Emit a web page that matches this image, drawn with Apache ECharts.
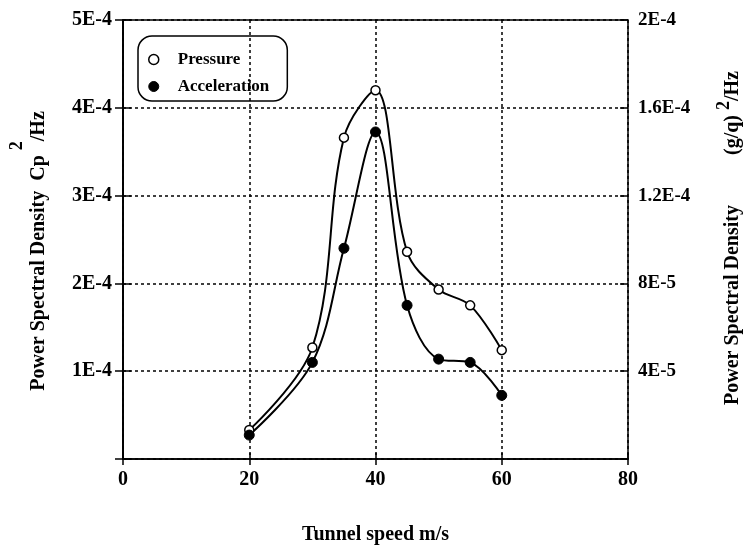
<!DOCTYPE html>
<html>
<head>
<meta charset="utf-8">
<script src="https://cdn.jsdelivr.net/npm/echarts@6/dist/echarts.min.js"></script>
<style>html,body{margin:0;padding:0;background:#fff}#c{width:748px;height:550px}</style>
</head>
<body>
<div id="c"></div>
<script>
// ---- data ----
var speeds = [20, 30, 35, 40, 45, 50, 55, 60];
var pressure = [3.3e-5, 1.27e-4, 3.66e-4, 4.2e-4, 2.36e-4, 1.93e-4, 1.75e-4, 1.24e-4];      // Cp^2/Hz (left axis)
var acceleration = [1.09e-5, 4.4e-5, 9.6e-5, 1.49e-4, 7.0e-5, 4.55e-5, 4.4e-5, 2.9e-5];   // (g/q)^2/Hz (right axis)
var xTickLabels = ['0', '20', '40', '60', '80'];
var leftTickLabels = ['', '1E-4', '2E-4', '3E-4', '4E-4', '5E-4'];
var rightTickLabels = ['', '4E-5', '8E-5', '1.2E-4', '1.6E-4', '2E-4'];
var seriesNames = ['Pressure', 'Acceleration'];
var xTitle = 'Tunnel speed m/s';
var leftTitle = ['Power Spectral Density  Cp ', '2', '/Hz'];
var rightTitle = ['Power Spectral Density          (g/q) ', '2', '/Hz'];

var FONT = '"Liberation Serif", "Times New Roman", serif';
var chart = echarts.init(document.getElementById('c'), null, {renderer: 'canvas'});

function pairs(xs, ys) { return xs.map(function (x, i) { return [x, ys[i]]; }); }

var option = {
  animation: false,
  backgroundColor: '#fff',
  grid: {left: 123, right: 120, top: 20, bottom: 91, show: true, borderColor: '#000', borderWidth: 1.5, backgroundColor: 'transparent'},
  legend: {
    left: 138, top: 36, orient: 'vertical',
    padding: [15, 18, 6, 10], itemGap: 10,
    itemWidth: 10, itemHeight: 10,
    borderColor: '#000', borderWidth: 1.5, borderRadius: 14,
    textStyle: {fontFamily: FONT, fontWeight: 'bold', fontSize: 17, color: '#000', lineHeight: 17, padding: [0, 0, 0, 14]},
    data: [
      {name: seriesNames[0], icon: 'circle', itemStyle: {color: '#fff', borderColor: '#000', borderWidth: 1.5}},
      {name: seriesNames[1], icon: 'circle', itemStyle: {color: '#000', borderColor: '#000', borderWidth: 1}}
    ]
  },
  xAxis: [{
    type: 'value', min: 0, max: 80, interval: 20,
    name: xTitle, nameLocation: 'middle', nameGap: 66,
    nameTextStyle: {fontFamily: FONT, fontWeight: 'bold', fontSize: 20, color: '#000'},
    axisLine: {lineStyle: {color: '#000', width: 1.5}},
    axisTick: {show: true, length: 6, lineStyle: {color: '#000', width: 1.5}},
    axisLabel: {margin: 11, fontFamily: FONT, fontWeight: 'bold', fontSize: 20, color: '#000',
      formatter: function (v, i) { return xTickLabels[i]; }},
    splitLine: {show: true, lineStyle: {color: '#000', width: 1.5, type: [3, 3]}}
  }, {
    type: 'value', min: 0, max: 80, interval: 20, position: 'bottom',
    axisLine: {show: false}, axisLabel: {show: false}, splitLine: {show: false},
    axisTick: {show: true, inside: true, length: 6, lineStyle: {color: '#000', width: 1.5}}
  }],
  yAxis: [{
    type: 'value', min: 0, max: 5e-4, interval: 1e-4, position: 'left',
    axisLine: {show: true, lineStyle: {color: '#000', width: 1.5}},
    axisTick: {show: true, length: 8, lineStyle: {color: '#000', width: 1.5}},
    axisLabel: {margin: 11, fontFamily: FONT, fontWeight: 'bold', fontSize: 20, color: '#000',
      formatter: function (v, i) { return leftTickLabels[i]; }},
    splitLine: {show: true, lineStyle: {color: '#000', width: 1.5, type: [3, 3]}}
  }, {
    type: 'value', min: 0, max: 2e-4, interval: 4e-5, position: 'right',
    axisLine: {show: true, lineStyle: {color: '#000', width: 1.5}},
    axisTick: {show: true, length: 8, lineStyle: {color: '#000', width: 1.5}},
    axisLabel: {margin: 10, fontFamily: FONT, fontWeight: 'bold', fontSize: 19, color: '#000',
      formatter: function (v, i) { return rightTickLabels[i]; }},
    splitLine: {show: false}
  }, {
    type: 'value', min: 0, max: 5e-4, interval: 1e-4, position: 'left',
    axisLine: {show: false}, axisLabel: {show: false}, splitLine: {show: false},
    axisTick: {show: true, inside: true, length: 8, lineStyle: {color: '#000', width: 1.5}}
  }, {
    type: 'value', min: 0, max: 2e-4, interval: 4e-5, position: 'right',
    axisLine: {show: false}, axisLabel: {show: false}, splitLine: {show: false},
    axisTick: {show: true, inside: true, length: 8, lineStyle: {color: '#000', width: 1.5}}
  }],
  graphic: [{
    type: 'text', x: 39, y: 251, rotation: Math.PI / 2,
    style: {
      text: '{t|' + leftTitle[0] + '}{s|' + leftTitle[1] + '}{t|' + leftTitle[2] + '}',
      align: 'center', verticalAlign: 'middle', fill: '#000',
      rich: {
        t: {fontFamily: FONT, fontWeight: 'bold', fontSize: 20, lineHeight: 62, verticalAlign: 'middle', fill: '#000'},
        s: {fontFamily: FONT, fontWeight: 'bold', fontSize: 18, lineHeight: 14, verticalAlign: 'top', fill: '#000'}
      }
    }
  }, {
    type: 'text', x: 733, y: 238, rotation: Math.PI / 2,
    style: {
      text: '{t|' + rightTitle[0] + '}{s|' + rightTitle[1] + '}{t|' + rightTitle[2] + '}',
      align: 'center', verticalAlign: 'middle', fill: '#000',
      rich: {
        t: {fontFamily: FONT, fontWeight: 'bold', fontSize: 20, lineHeight: 36, verticalAlign: 'middle', fill: '#000'},
        s: {fontFamily: FONT, fontWeight: 'bold', fontSize: 18, lineHeight: 14, verticalAlign: 'top', fill: '#000'}
      }
    }
  }],
  series: [{
    name: seriesNames[0], type: 'line', xAxisIndex: 0, yAxisIndex: 0,
    data: pairs(speeds, pressure), smooth: 0.35,
    symbol: 'circle', symbolSize: 9, z: 5,
    lineStyle: {color: '#000', width: 2},
    itemStyle: {color: '#fff', borderColor: '#000', borderWidth: 1.5}
  }, {
    name: seriesNames[1], type: 'line', xAxisIndex: 0, yAxisIndex: 1,
    data: pairs(speeds, acceleration), smooth: 0.35,
    symbol: 'circle', symbolSize: 10, z: 5,
    lineStyle: {color: '#000', width: 2},
    itemStyle: {color: '#000', borderColor: '#000', borderWidth: 1}
  }]
};
chart.setOption(option);
</script>
</body>
</html>
